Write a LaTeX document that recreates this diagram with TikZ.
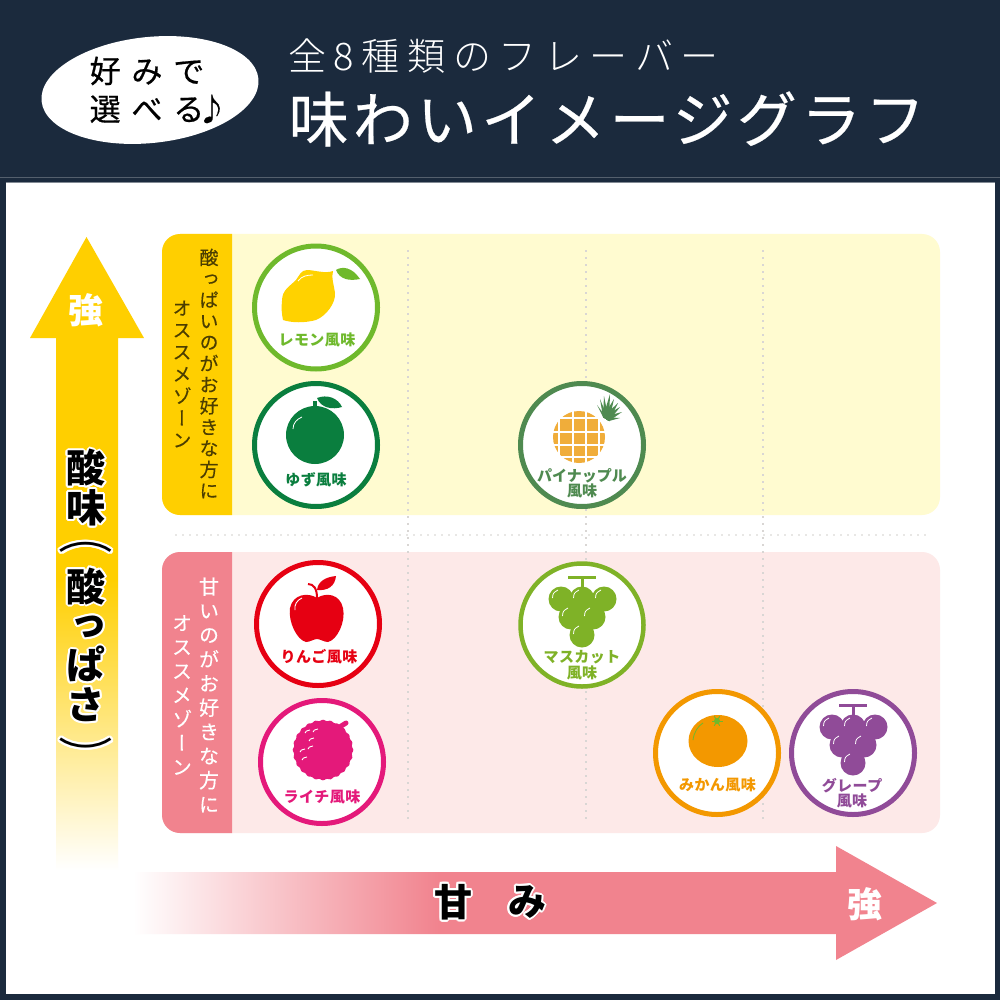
\documentclass[tikz,border=0pt]{standalone}
\usepackage{fontspec}
\usepackage[copies]{contour}
\usetikzlibrary{arrows,positioning,shapes.geometric}
\setmainfont{Noto Sans CJK JP}
\newfontfamily\jpvert[Script=CJK,RawFeature=+vert]{Noto Sans CJK JP}
\newfontfamily\jplight{Noto Sans CJK JP Light}
\definecolor{navy}{HTML}{1B2A3D}
\definecolor{sourcol}{HTML}{FFCF00}
\definecolor{sweetcol}{HTML}{F1838E}
\definecolor{sourbg}{HTML}{FFFBD0}
\definecolor{sweetbg}{HTML}{FDE9E8}
\definecolor{gridcol}{HTML}{D9D6D4}
\definecolor{lemoncol}{HTML}{6FB92C}
\definecolor{lemonfruit}{HTML}{FFD200}
\definecolor{yuzucol}{HTML}{0A7E3E}
\definecolor{pinecol}{HTML}{4F8A50}
\definecolor{pinefruit}{HTML}{F0AD3A}
\definecolor{muscatcol}{HTML}{7FB227}
\definecolor{applecol}{HTML}{E60012}
\definecolor{lycheecol}{HTML}{E4197A}
\definecolor{orangecol}{HTML}{F39800}
\definecolor{grapecol}{HTML}{904B98}
\pgfdeclareverticalshading{sourfade}{100bp}{color(0bp)=(white);color(25bp)=(white);color(48bp)=(sourcol);color(100bp)=(sourcol)}
\pgfdeclarehorizontalshading{sweetfade}{100bp}{color(0bp)=(white);color(25bp)=(white);color(44bp)=(sweetcol);color(100bp)=(sweetcol)}
\newcommand{\halo}[1]{\contour{white}{#1}}
\newcommand{\archar}[2]{\smash{\raisebox{#1}{\halo{\scalebox{1.4}[1]{\mdseries #2}}}}}
\newcommand{\grapebunch}[3]{%
\begin{scope}[shift={(#1,#2)}]
\fill[#3] (-14,-49.5) rectangle (14,-46.5);
\fill[#3] (-1.5,-48) rectangle (1.5,-35);
\foreach \dx/\dy in {-21/-26,0/-26,22/-26,-11/-8,11/-8,0/10} {
  \fill[#3] (\dx,\dy) circle (12.5);
  \draw[white,line width=.8] (\dx-8.5,\dy-1) .. controls (\dx-8,\dy-6) .. (\dx-3,\dy-9);
}
\end{scope}}
\begin{document}
\begin{tikzpicture}[x=1pt,y=-1pt,>=latex',line join=bevel,
  badge/.style={circle,draw=#1,fill=white,line width=5pt,minimum size=123pt,inner sep=0pt},
  flavor/.style={text=#1,font=\fontsize{15}{15.5}\selectfont\bfseries\addfontfeature{LetterSpace=3},align=center,inner sep=0pt},
  zone/.style={text=#1,align=center,inner sep=0pt},
  strong/.style={text=white,font=\fontsize{35}{35}\selectfont\bfseries,inner sep=0pt},
  griddots/.style={gridcol,line width=1.8pt,dash pattern=on 1.8pt off 5.2pt}]
\useasboundingbox (0,0) rectangle (1000,1000);
\fill[navy] (0,0) rectangle (1000,1000);
\fill[white] (5.5,183) rectangle (994.5,994);
\draw[navy!75!white,line width=1pt] (0,178) -- (1000,178);
\draw[navy!55!white,line width=1pt] (5.5,183) -- (994.5,183);

\node[ellipse,fill=white,minimum width=218pt,minimum height=106pt,inner sep=0pt,rotate=6] (oval) at (150,90) {};
\node[font=\fontsize{31}{31}\selectfont\addfontfeature{LetterSpace=35,FakeBold=.6},inner sep=0pt] (ovaltop) at (147,71) {好みで};
\node[font=\fontsize{31}{31}\selectfont\addfontfeature{LetterSpace=35,FakeBold=.6},inner sep=0pt,below=9pt of ovaltop.south west,anchor=north west] (ovalbot) {選べる\kern-8pt♪};
\node[text=white,font=\fontsize{38}{38}\selectfont\jplight\addfontfeature{LetterSpace=20},inner sep=0pt] (subtitle) at (503.5,56) {全8種類のフレーバー};
\node[text=white,font=\fontsize{60}{60}\selectfont\addfontfeature{LetterSpace=7,FakeBold=.4},inner sep=0pt] (title) at (607,119) {味わいイメージグラフ};

\fill[sourbg,rounded corners=18] (162,234) rectangle (940,515);
\fill[sourcol] (232,234) [rounded corners=18] -- (162,234) -- (162,515) [sharp corners] -- (232,515) -- cycle;
\fill[sweetbg,rounded corners=18] (162,552) rectangle (940,833);
\fill[sweetcol] (232,552) [rounded corners=18] -- (162,552) -- (162,833) [sharp corners] -- (232,833) -- cycle;

\foreach \gx in {408,586,763}
  \draw[griddots] (\gx,250) -- (\gx,822);
\draw[griddots,gridcol!60!white] (175,535) -- (930,535);

\node[zone=black!70!sourcol,font=\fontsize{19}{21.2}\selectfont\jpvert\addfontfeature{FakeBold=.3}] (sourzone1) at (209,373.5) {酸\\っ\\ぱ\\い\\の\\が\\お\\好\\き\\な\\方\\に};
\node[zone=black!70!sourcol,font=\fontsize{19}{22}\selectfont\jpvert\addfontfeature{FakeBold=.3}] (sourzone2) at (182,374) {オ\\ス\\ス\\メ\\ゾ\\ー\\ン};
\node[zone=white,font=\fontsize{20}{24.2}\selectfont\jpvert\addfontfeature{FakeBold=.3}] (sweetzone1) at (209,695) {甘\\い\\の\\が\\お\\好\\き\\な\\方\\に};
\node[zone=white,font=\fontsize{20}{24}\selectfont\jpvert\addfontfeature{FakeBold=.3}] (sweetzone2) at (182,695) {オ\\ス\\ス\\メ\\ゾ\\ー\\ン};

\shade[shading=sourfade] (56,870) -- (56,338) -- (30,338) -- (86.5,237) -- (144,338) -- (118,338) -- (118,870) -- cycle;
\shade[shading=sweetfade] (133,872) -- (836,872) -- (836,846) -- (937,903) -- (836,960) -- (836,934) -- (133,934) -- cycle;
\node[strong] (sourstrong) at (86,310) {強};
\node[strong] (sweetstrong) at (865,904) {強};
\contourlength{2pt}
\node[align=center,inner sep=0pt,font=\fontsize{39}{39.4}\selectfont\bfseries\jpvert] (sourlabel) at (86,604) {\halo{酸}\\\halo{味}\\\archar{12pt}{（}\\\halo{酸}\\\halo{っ}\\\halo{ぱ}\\\halo{さ}\\\archar{-12pt}{）}};
\node[inner sep=0pt,font=\fontsize{38}{38}\selectfont\bfseries] (sweetlabel) at (453,903) {\halo{甘}};
\node[inner sep=0pt,font=\fontsize{38}{38}\selectfont\bfseries] (sweetlabel2) at (527,903) {\halo{み}};

\node[badge=lemoncol] (lemon) at (316,307.5) {};
\node[badge=yuzucol] (yuzu) at (316,445) {};
\node[badge=pinecol] (pine) at (582,445) {};
\node[badge=muscatcol,line width=4.5pt] (muscat) at (582,625) {};
\node[badge=applecol] (apple) at (318,624) {};
\node[badge=lycheecol] (lychee) at (322,762) {};
\node[badge=orangecol] (orange) at (717,753) {};
\node[badge=grapecol] (grape) at (853,753) {};

% lemon
\fill[lemonfruit] (333,271) .. controls (325,274) and (314,270) .. (307,270) .. controls (301,270) and (299,276) .. (296,280)
  .. controls (289,287) and (282,290) .. (282,301) .. controls (281,308) and (282,315) .. (283,320)
  .. controls (292,323) and (305,323) .. (316,320) .. controls (326,316) and (336,303) .. (335,293)
  .. controls (334,285) and (331,278) .. (333,271) -- cycle;
\draw[white,line width=.8] (298,281) .. controls (302,276) and (307,275) .. (313,275);
\fill[lemoncol] (336,270) .. controls (342,266) and (352,267) .. (360,279) .. controls (350,281) and (340,280) .. (336,270) -- cycle;
% yuzu
\fill[yuzucol] (313,401) rectangle (317,408);
\fill[yuzucol] (315,435) circle (29);
\fill[yuzucol] (317,398) .. controls (327,394) and (338,398) .. (342,407) .. controls (332,410) and (321,408) .. (317,398) -- cycle;
\draw[white,line width=.8] (293,429) .. controls (293,423) and (297,419) .. (302,417);
% pineapple
\fill[pinefruit] (579,437) circle (26);
\foreach \gx in {559,573,586,599}
  \draw[white,line width=2pt] (\gx,411) -- (\gx,463);
\foreach \gy in {418,432,445,457}
  \draw[white,line width=2pt] (553,\gy) -- (605,\gy);
\foreach \tipx/\tipy in {597/405,600/399,604/396,610/394,614/399,618/403,620/407,622/412,620/418}
  \fill[pinecol] (603,417) -- (\tipx,\tipy) -- (609,421) -- cycle;
% muscat and grape
\grapebunch{582}{625}{muscatcol}
\grapebunch{853}{753}{grapecol}
% apple
\fill[applecol] (317,598) .. controls (308,592) and (293,594) .. (290,608) .. controls (288,622) and (297,640) .. (306,642)
  .. controls (310,642) and (314,639) .. (317,639) .. controls (320,639) and (324,642) .. (328,642)
  .. controls (337,640) and (346,622) .. (343,608) .. controls (340,594) and (326,592) .. (317,598) -- cycle;
\draw[applecol,line width=2pt] (317,598) .. controls (317,589) and (314,584) .. (308,584);
\fill[applecol] (317,590) .. controls (318,581) and (326,577) .. (336,576) .. controls (335,586) and (328,591) .. (317,590) -- cycle;
\draw[white,line width=.9] (295,610) .. controls (294,605) and (297,600) .. (302,598);
% lychee
\fill[lycheecol] plot[domain=0:358,samples=120,smooth cycle] ({323+(29.7+.6*cos(24*\x))*cos(\x)},{750+(29.7+.6*cos(24*\x))*sin(\x)});
\draw[lycheecol,line width=5pt,line cap=round] (338,728) -- (346,723);
\foreach \lx/\ly in {305/733,313/732,309/741,300/752,308/749,302/760}
  \draw[white,line width=.9] (\lx,\ly) .. controls (\lx+1,\ly-2) .. (\lx+5,\ly-3);
% orange
\fill[orangecol] (718,741) ellipse (29.5 and 26);
\fill[lemoncol] (717,721) circle (3);
\foreach \ang in {0,60,...,300}
  \draw[lemoncol,line width=1pt] (717,721) -- ++(\ang:5.5);
\draw[lemoncol,line width=.8] (693,740) .. controls (694,732) and (698,726) .. (703,723);

\node[flavor=lemoncol] (lemonname) at (317,339.5) {レモン風味};
\node[flavor=yuzucol] (yuzuname) at (316,479.5) {ゆず風味};
\node[flavor=pinecol,font=\fontsize{15}{15.5}\selectfont\bfseries] (pinename) at (582,483) {パイナップル\\風味};
\node[flavor=muscatcol] (muscatname) at (582,665) {マスカット\\風味};
\node[flavor=applecol] (applename) at (319,657) {りんご風味};
\node[flavor=lycheecol] (lycheename) at (322,797) {ライチ風味};
\node[flavor=orangecol] (orangename) at (717.5,785) {みかん風味};
\node[flavor=grapecol] (grapename) at (852,793) {グレープ\\風味};
\end{tikzpicture}
\end{document}
